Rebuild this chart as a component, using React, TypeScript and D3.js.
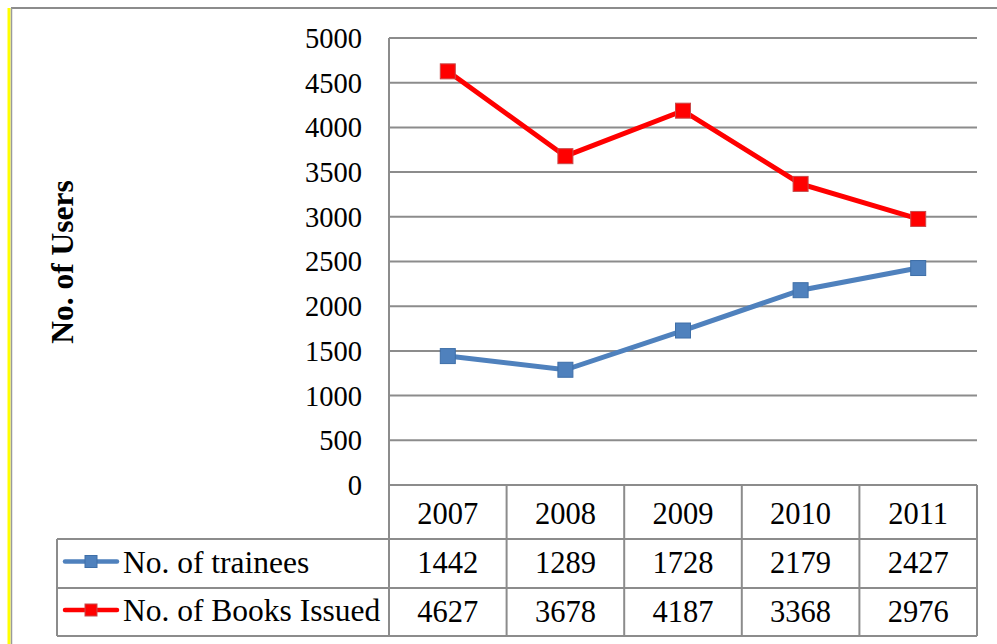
import React from "react";
import * as d3 from "d3";

const years = ["2007", "2008", "2009", "2010", "2011"];
const trainees = [1442, 1289, 1728, 2179, 2427];
const booksIssued = [4627, 3678, 4187, 3368, 2976];
const yTicks = [0, 500, 1000, 1500, 2000, 2500, 3000, 3500, 4000, 4500, 5000];
const seriesNames = ["No. of trainees", "No. of Books Issued"];

const W = 997;
const H = 644;
const plotL = 389;
const plotR = 977;
const plotT = 38;
const plotB = 485;
const rowLines = [485, 539, 588, 636];
const legendL = 57;
const font = "'Liberation Serif', 'Times New Roman', serif";

export default function App() {
  const x = d3.scaleBand<string>().domain(years).range([plotL, plotR]);
  const y = d3.scaleLinear().domain([0, 5000]).range([plotB, plotT]);
  const cx = (d: string) => (x(d) as number) + x.bandwidth() / 2;
  const line = d3
    .line<number>()
    .x((_, i) => cx(years[i]))
    .y((v) => y(v));

  const series = [
    { name: seriesNames[0], values: trainees, color: "#4F81BD", stroke: "#3E6FA8" },
    { name: seriesNames[1], values: booksIssued, color: "#FF0000", stroke: "#C84A4A" },
  ];
  const grid = "#8C8C8C";
  const ms = 15;

  return (
    <svg
      width={W}
      height={H}
      style={{ position: "absolute", left: 0, top: 0, background: "#fff" }}
    >
      {/* outer frame */}
      <line x1={11} x2={W} y1={8} y2={8} stroke="#8C8C8C" strokeWidth={2} />
      <line x1={9} x2={9} y1={8} y2={H} stroke="#FFFF00" strokeWidth={3} />
      <line x1={11.5} x2={11.5} y1={8} y2={H} stroke="#9A9A9A" strokeWidth={1.5} />

      {/* gridlines */}
      {yTicks.map((t) => (
        <line key={t} x1={plotL} x2={plotR} y1={y(t)} y2={y(t)} stroke={grid} strokeWidth={2} />
      ))}
      <line x1={plotL} x2={plotL} y1={plotT} y2={rowLines[3]} stroke={grid} strokeWidth={2} />

      {/* y tick labels */}
      {yTicks.map((t) => (
        <text
          key={t}
          x={362}
          y={y(t)}
          dy="0.35em"
          textAnchor="end"
          fontFamily={font}
          fontSize={28.5}
          fill="#000"
        >
          {t}
        </text>
      ))}

      {/* y title */}
      <text
        transform={`translate(73,${262}) rotate(-90)`}
        textAnchor="middle"
        fontFamily={font}
        fontWeight="bold"
        fontSize={31.5}
        fill="#000"
      >
        No. of Users
      </text>

      {/* data table */}
      {rowLines.slice(1).map((ry) => (
        <line key={ry} x1={legendL} x2={plotR} y1={ry} y2={ry} stroke={grid} strokeWidth={2} />
      ))}
      <line x1={legendL} x2={legendL} y1={rowLines[1]} y2={rowLines[3]} stroke={grid} strokeWidth={2} />
      {years.map((yr) => (
        <line
          key={yr}
          x1={(x(yr) as number) + x.bandwidth()}
          x2={(x(yr) as number) + x.bandwidth()}
          y1={plotB}
          y2={rowLines[3]}
          stroke={grid}
          strokeWidth={2}
        />
      ))}
      {years.map((yr) => (
        <text
          key={yr}
          x={cx(yr)}
          y={(rowLines[0] + rowLines[1]) / 2 + 1}
          dy="0.35em"
          textAnchor="middle"
          fontFamily={font}
          fontSize={30.5}
        >
          {yr}
        </text>
      ))}
      {series.map((s, si) => (
        <g key={s.name}>
          {s.values.map((v, i) => (
            <text
              key={i}
              x={cx(years[i])}
              y={(rowLines[si + 1] + rowLines[si + 2]) / 2 - 1}
              dy="0.35em"
              textAnchor="middle"
              fontFamily={font}
              fontSize={30.5}
            >
              {v}
            </text>
          ))}
          <line
            x1={65}
            x2={117}
            y1={(rowLines[si + 1] + rowLines[si + 2]) / 2 - 2}
            y2={(rowLines[si + 1] + rowLines[si + 2]) / 2 - 2}
            stroke={s.color}
            strokeWidth={4.5}
            strokeLinecap="round"
          />
          <rect
            x={91 - 6}
            y={(rowLines[si + 1] + rowLines[si + 2]) / 2 - 8}
            width={12}
            height={12}
            fill={s.color}
            stroke={s.stroke}
            strokeWidth={1}
          />
          <text
            x={123}
            y={(rowLines[si + 1] + rowLines[si + 2]) / 2 - 2}
            dy="0.35em"
            fontFamily={font}
            fontSize={31.5}
          >
            {s.name}
          </text>
        </g>
      ))}

      {/* series lines */}
      {series.map((s) => (
        <g key={s.name}>
          <path d={line(s.values) || ""} fill="none" stroke={s.color} strokeWidth={5} />
          {s.values.map((v, i) => (
            <rect
              key={i}
              x={cx(years[i]) - ms / 2}
              y={y(v) - ms / 2}
              width={ms}
              height={ms}
              fill={s.color}
              stroke={s.stroke}
              strokeWidth={1}
            />
          ))}
        </g>
      ))}
    </svg>
  );
}
